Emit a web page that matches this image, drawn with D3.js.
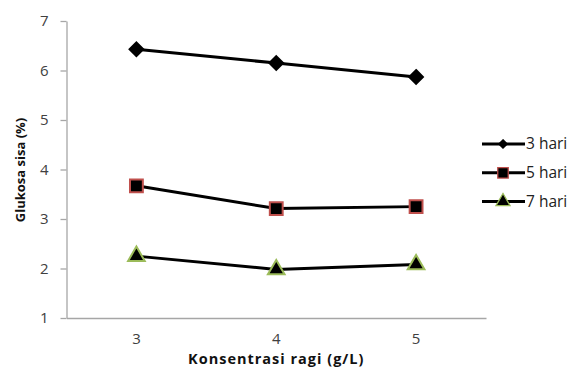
<!DOCTYPE html>
<html>
<head>
<meta charset="utf-8">
<script src="https://cdn.jsdelivr.net/npm/d3@7"></script>
<style>
body { margin: 0; background: #fff; }
text { font-family: "Open Sans", "Noto Sans", sans-serif; }
</style>
</head>
<body>
<div id="chart"></div>
<script>
// data
var categories = ["3", "4", "5"];
var seriesNames = ["3 hari", "5 hari", "7 hari"];
var hari3 = [6.43, 6.15, 5.87];
var hari5 = [3.67, 3.21, 3.25];
var hari7 = [2.25, 1.98, 2.08];
var yTicks = [1, 2, 3, 4, 5, 6, 7];

var series = [
    {name: seriesNames[0], values: hari3, shape: d3.symbolDiamond2, size: 120, lsize: 45, stroke: "#000"},
    {name: seriesNames[1], values: hari5, shape: d3.symbolSquare, size: 165, lsize: 110, stroke: "#c0504d"},
    {name: seriesNames[2], values: hari7, shape: d3.symbolTriangle, size: 120, lsize: 85, stroke: "#9bbb59"}
];

var width = 574, height = 370;
var margin = {top: 21, left: 66.5, right: 88, bottom: 52};

var svg = d3.select("#chart").append("svg")
    .attr("width", width)
    .attr("height", height);

var x = d3.scaleBand()
    .domain(categories)
    .range([margin.left, width - margin.right]);

var y = d3.scaleLinear()
    .domain([1, 7])
    .range([height - margin.bottom, margin.top]);

// y axis
var yAxis = svg.append("g")
    .attr("transform", "translate(" + margin.left + ",0)")
    .call(d3.axisLeft(y).tickValues(yTicks).tickFormat(d3.format("d"))
        .tickSize(6).tickSizeOuter(0).tickPadding(12));
yAxis.select(".domain").attr("stroke", "#a6a6a6").attr("stroke-width", 1.3);
yAxis.selectAll(".tick line").attr("stroke", "#a6a6a6").attr("stroke-width", 1.3);
yAxis.selectAll(".tick text").attr("font-size", 15).attr("fill", "#404040");

// x axis
var xAxis = svg.append("g")
    .attr("transform", "translate(0," + (height - margin.bottom) + ")")
    .call(d3.axisBottom(x).tickSize(0).tickPadding(15));
xAxis.select(".domain").attr("stroke", "#a6a6a6").attr("stroke-width", 1.3);
xAxis.selectAll(".tick text").attr("font-size", 15).attr("fill", "#404040");

// axis titles
svg.append("text")
    .attr("x", (margin.left + width - margin.right) / 2)
    .attr("y", 364)
    .attr("text-anchor", "middle")
    .attr("font-size", 14.5)
    .attr("font-weight", "bold")
    .attr("letter-spacing", 1)
    .attr("fill", "#111")
    .text("Konsentrasi ragi (g/L)");

svg.append("text")
    .attr("transform", "translate(25," + 170 + ") rotate(-90)")
    .attr("text-anchor", "middle")
    .attr("font-size", 13)
    .attr("font-weight", "bold")
    .attr("fill", "#111")
    .text("Glukosa sisa (%)");

var line = d3.line()
    .x(function(d, i){ return x(categories[i]) + x.bandwidth() / 2; })
    .y(function(d){ return y(d); });

series.forEach(function(s) {
    svg.append("path")
        .datum(s.values)
        .attr("d", line)
        .attr("fill", "none")
        .attr("stroke", "#000")
        .attr("stroke-width", 3);

    svg.selectAll(null)
        .data(s.values)
        .enter()
        .append("path")
        .attr("transform", function(d, i){
            return "translate(" + (x(categories[i]) + x.bandwidth() / 2) + "," + y(d) + ")";
        })
        .attr("d", d3.symbol().type(s.shape).size(s.size))
        .attr("fill", "#000")
        .attr("stroke", s.stroke)
        .attr("stroke-width", 2);
});

// legend
var legend = svg.append("g").attr("transform", "translate(482,144)");
series.forEach(function(s, i) {
    var row = legend.append("g").attr("transform", "translate(0," + (i * 28.8) + ")");
    row.append("line")
        .attr("x1", 0).attr("x2", 43)
        .attr("stroke", "#000").attr("stroke-width", 3);
    row.append("path")
        .attr("transform", "translate(21,0)")
        .attr("d", d3.symbol().type(s.shape).size(s.lsize))
        .attr("fill", "#000")
        .attr("stroke", s.stroke)
        .attr("stroke-width", 1.3);
    row.append("text")
        .attr("x", 44)
        .attr("dy", "0.35em")
        .attr("font-size", 15.5)
        .attr("fill", "#222")
        .text(s.name);
});
</script>
</body>
</html>
